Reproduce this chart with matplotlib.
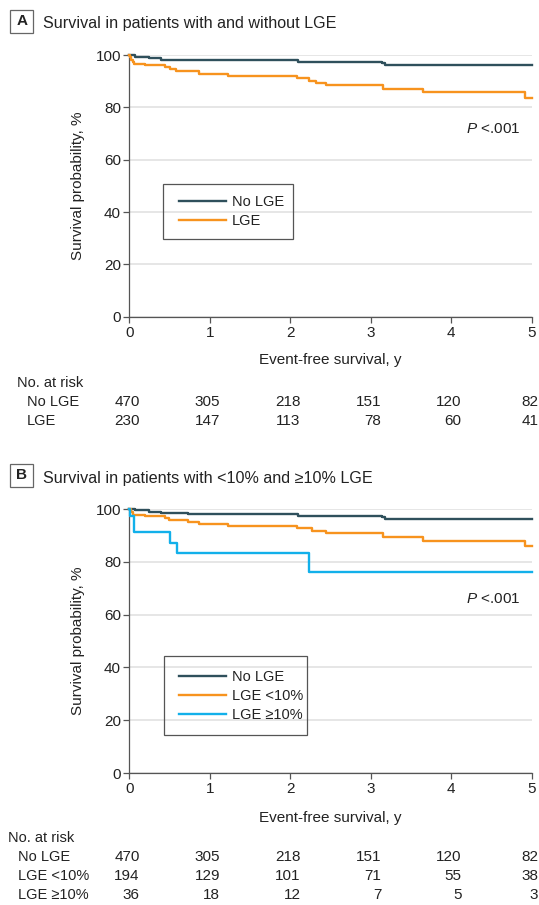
import matplotlib
matplotlib.use("Agg")
import matplotlib.pyplot as plt
from matplotlib.patches import Rectangle
from matplotlib.transforms import blended_transform_factory

plt.rcParams["font.family"] = ["Liberation Sans", "DejaVu Sans"]
plt.rcParams["mathtext.fontset"] = "custom"
plt.rcParams["mathtext.it"] = "Liberation Sans:italic"
plt.rcParams["mathtext.rm"] = "Liberation Sans"

# --- data -------------------------------------------------------------------
# Panel A: survival with / without LGE (step curves, %)
a_none_t = [0, 0.07, 0.24, 0.40, 0.73, 2.10, 3.14, 3.18, 5.0]
a_none_s = [100, 99.4, 98.8, 98.3, 98.0, 97.4, 97.0, 96.1, 96.1]
a_lge_t = [0, 0.01, 0.025, 0.04, 0.06, 0.19, 0.44, 0.50, 0.58, 0.86, 1.23,
           2.08, 2.23, 2.32, 2.45, 3.15, 3.65, 4.92, 5.0]
a_lge_s = [100, 99.3, 98.1, 97.5, 96.5, 96.1, 95.5, 94.6, 93.8, 92.9, 92.1,
           91.2, 90.3, 89.4, 88.5, 87.2, 85.8, 83.8, 83.8]

# Panel B: no LGE, LGE <10%, LGE >=10%
b_none_t = [0, 0.07, 0.24, 0.40, 0.73, 2.10, 3.14, 3.18, 5.0]
b_none_s = [100, 99.6, 99.0, 98.5, 98.0, 97.4, 97.0, 96.2, 96.2]
b_low_t = [0, 0.02, 0.04, 0.19, 0.44, 0.49, 0.73, 0.87, 1.23, 2.08, 2.27,
           2.45, 3.15, 3.65, 4.92, 5.0]
b_low_s = [100, 99.0, 97.7, 97.4, 96.7, 96.0, 95.2, 94.5, 93.6, 92.7, 91.8,
           90.8, 89.4, 87.9, 85.8, 85.8]
b_high_t = [0, 0.005, 0.06, 0.51, 0.59, 2.23, 5.0]
b_high_s = [100, 97.2, 91.1, 87.3, 83.3, 76.0, 76.0]

risk_years = [0, 1, 2, 3, 4, 5]
a_risk_labels = ["No LGE", "LGE"]
a_risk = [[470, 305, 218, 151, 120, 82],
          [230, 147, 113, 78, 60, 41]]
b_risk_labels = ["No LGE", "LGE <10%", "LGE \u226510%"]
b_risk = [[470, 305, 218, 151, 120, 82],
          [194, 129, 101, 71, 55, 38],
          [36, 18, 12, 7, 5, 3]]

DARK = "#2f505c"
ORANGE = "#f7931e"
BLUE = "#12b0ea"
AXC = "#555555"
TXT = "#222222"
FS = 11
LFS = 10.5

W, H = 539, 905
fig = plt.figure(figsize=(W / 100, H / 100), dpi=100)


def fx(x):
    return x / W


def fy(y):
    return 1 - y / H


def panel(ax, curves, legend_anchor, legend_box, p_y):
    for t, s, c, lab in curves:
        ax.step(t, s, where="post", color=c, lw=1.7, label=lab, clip_on=False,
                zorder=3)
    ax.set_xlim(0, 5)
    ax.set_ylim(0, 100)
    ax.set_xticks(range(6))
    ax.set_yticks(range(0, 101, 20))
    ax.yaxis.grid(True, color="#e2e2e2", lw=1.2)
    ax.set_axisbelow(True)
    for sp in ["top", "right"]:
        ax.spines[sp].set_visible(False)
    for sp in ["left", "bottom"]:
        ax.spines[sp].set_color(AXC)
        ax.spines[sp].set_linewidth(0.9)
    ax.tick_params(direction="out", length=4, width=0.9, color=AXC,
                   labelsize=FS, labelcolor=TXT)
    ax.tick_params(axis="x", pad=2.5)
    ax.tick_params(axis="y", pad=2)
    leg = ax.legend(loc="center left", bbox_to_anchor=legend_anchor,
                    frameon=False, borderpad=0, borderaxespad=0,
                    handlelength=3.2, handletextpad=0.4, labelspacing=0.35,
                    fontsize=LFS)
    for txt in leg.get_texts():
        txt.set_color(TXT)
    x0, y0, w, h = legend_box
    ax.add_patch(Rectangle((x0, y0), w, h, transform=ax.transAxes,
                           fill=False, ec=AXC, lw=0.9, zorder=4))
    ax.text(4.18, p_y, "$P$ <.001", fontsize=FS, color=TXT, va="baseline")


def title(y_box, y_base, letter, text):
    fig.patches.append(Rectangle((fx(10.4), fy(y_box + 11.5)), 22.8 / W, 23 / H,
                                 transform=fig.transFigure, fill=False,
                                 ec="#666666", lw=0.9))
    fig.text(fx(21.8), fy(y_box), letter, fontsize=FS, fontweight="bold",
             ha="center", va="center", color=TXT)
    fig.text(fx(43), fy(y_base), text, fontsize=11.6, va="baseline", color=TXT)


def risk_table(ax, x_head, x_rows, y_head, y_rows, labels, rows):
    tr = blended_transform_factory(ax.transData, fig.transFigure)
    fig.text(fx(x_head), fy(y_head), "No. at risk", fontsize=LFS,
             va="baseline", color=TXT)
    for lab, vals, yb in zip(labels, rows, y_rows):
        fig.text(fx(x_rows), fy(yb), lab, fontsize=LFS, va="baseline", color=TXT)
        for yr, v in zip(risk_years, vals):
            # numbers sit right-aligned just past each tick; keep the last
            # column inside the figure edge
            ax.text(min(yr + 0.13, 5.08), fy(yb), str(v), transform=tr,
                    fontsize=FS, ha="right", va="baseline", color=TXT)


# --- Panel A ----------------------------------------------------------------
axA = fig.add_axes([fx(129.3), fy(316.7), 402.4 / W, (316.7 - 55.2) / H])
panel(axA,
      [(a_none_t, a_none_s, DARK, "No LGE"), (a_lge_t, a_lge_s, ORANGE, "LGE")],
      (0.1243, 0.4015), (0.083, 0.296, 0.3246, 0.2103), 70.2)
title(21.2, 28, "A", "Survival in patients with and without LGE")
fig.text(fx(78), fy(186), "Survival probability, %", rotation=90, fontsize=FS,
         ha="center", va="center", color=TXT)
fig.text(fx(330.5), fy(364.3), "Event-free survival, y", fontsize=FS,
         ha="center", va="baseline", color=TXT)
risk_table(axA, 16.7, 26.7, 386.5, [406, 425], a_risk_labels, a_risk)

# --- Panel B ----------------------------------------------------------------
axB = fig.add_axes([fx(129.3), fy(773), 402.4 / W, (773 - 509) / H])
panel(axB,
      [(b_none_t, b_none_s, DARK, "No LGE"),
       (b_low_t, b_low_s, ORANGE, "LGE <10%"),
       (b_high_t, b_high_s, BLUE, "LGE \u226510%")],
      (0.1243, 0.2905), (0.086, 0.143, 0.355, 0.301), 64.4)
title(475.3, 483, "B", "Survival in patients with <10% and \u226510% LGE")
fig.text(fx(78), fy(641), "Survival probability, %", rotation=90, fontsize=FS,
         ha="center", va="center", color=TXT)
fig.text(fx(330.5), fy(822), "Event-free survival, y", fontsize=FS,
         ha="center", va="baseline", color=TXT)
risk_table(axB, 8.3, 18.3, 841.5, [860.5, 879.5, 898.5], b_risk_labels, b_risk)

fig.savefig("out.png", dpi=100, facecolor="white")
